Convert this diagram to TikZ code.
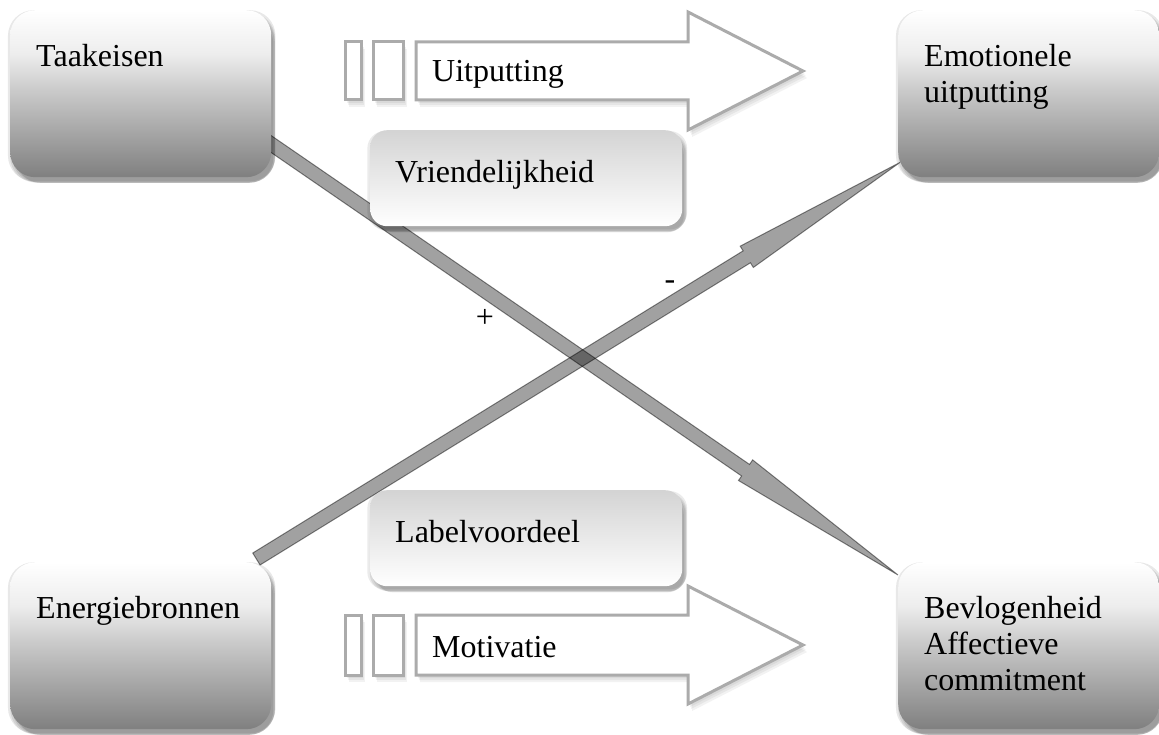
\documentclass[tikz,border=0pt]{standalone}
\usepackage{fontspec}
\setmainfont{Liberation Serif}
\usetikzlibrary{calc,shadows}
\pgfdeclarelayer{bg}
\pgfsetlayers{bg,main}
\pgfdeclareverticalshading{bigshade}{100bp}{color(0bp)=(black!50); color(25bp)=(black!50); color(50bp)=(black!22); color(62bp)=(black!7); color(75bp)=(white); color(100bp)=(white)}
\newcommand\figfont{\fontsize{32}{36}\selectfont}
\newcommand\bigtxt[1]{\parbox[c][167pt][t]{209pt}{\raggedright\rule{0pt}{56pt}#1}}
\newcommand\smalltxt[1]{\parbox[c][96pt][t]{262pt}{\raggedright\rule{0pt}{52pt}#1}}
\begin{document}
\begin{tikzpicture}[x=1pt,y=-1pt,
  softshadow/.style={
    general shadow={fill=black, opacity=#1, shadow xshift=1pt, shadow yshift=-2pt, shadow scale=1.025},
    general shadow={fill=black, opacity=#1, shadow xshift=2pt, shadow yshift=-4pt, shadow scale=1.015},
    general shadow={fill=black, opacity=#1, shadow xshift=3pt, shadow yshift=-5pt, shadow scale=1.005},
    general shadow={fill=black, opacity=#1, shadow xshift=4pt, shadow yshift=-6pt, shadow scale=0.995},
    general shadow={fill=black, opacity=#1, shadow xshift=4pt, shadow yshift=-7pt, shadow scale=0.985}},
  bigbox/.style={anchor=north west, inner xsep=26pt, inner ysep=0pt, rounded corners=25pt,
    softshadow=0.09, shade, shading=bigshade, font=\figfont},
  smallbox/.style={anchor=north west, inner xsep=25pt, inner ysep=0pt, rounded corners=17pt,
    softshadow=0.08, top color=black!17, bottom color=white, font=\figfont},
  blockarrow/.style={draw=black!33, line width=3pt, fill=white,
    general shadow={fill=black, opacity=0.05, shadow xshift=2pt, shadow yshift=-3pt},
    general shadow={fill=black, opacity=0.05, shadow xshift=3pt, shadow yshift=-5pt},
    general shadow={fill=black, opacity=0.05, shadow xshift=4pt, shadow yshift=-7pt}},
  diag/.style={fill=black, fill opacity=0.37, draw=black, draw opacity=0.45, line width=1pt},
  lbl/.style={anchor=base west, inner sep=0pt, font=\figfont},
  sign/.style={inner sep=0pt, font=\figfont}]
\useasboundingbox (0,0) rectangle (1159,735);
\begin{pgfonlayer}{bg}
\fill[white] (0,0) rectangle (1159,735);
\end{pgfonlayer}

% big boxes
\node[bigbox] (taak) at (10,10) {\bigtxt{Taakeisen}};
\node[bigbox] (emo) at (898,10) {\bigtxt{Emotionele\\uitputting}};
\node[bigbox] (energ) at (10,562) {\bigtxt{Energiebronnen}};
\node[bigbox] (bevl) at (898,562) {\bigtxt{Bevlogenheid\\Affectieve\\commitment}};

% small boxes
\node[smallbox] (vriend) at (370,130) {\smalltxt{Vriendelijkheid}};
\node[smallbox] (label) at (370,490) {\smalltxt{Labelvoordeel}};

% block arrows
\draw[blockarrow] (345,42) rectangle (361,100);
\draw[blockarrow] (373,42) rectangle (403,100);
\draw[blockarrow] (416,42) -- (688,42) -- (688,12) -- (803,71) -- (688,130) -- (688,100) -- (416,100) -- cycle;
\node[lbl] (uit) at (432,82) {Uitputting};

\draw[blockarrow] (345,615) rectangle (361,675);
\draw[blockarrow] (373,615) rectangle (403,675);
\draw[blockarrow] (416,615) -- (688,615) -- (688,586) -- (803,645) -- (688,704) -- (688,675) -- (416,675) -- cycle;
\node[lbl] (motiv) at (432,657) {Motivatie};

% diagonal connectors
\coordinate (s1) at ($(taak.south east)+(-23,-49)$);
\coordinate (t1) at ($(bevl.north west)+(0,13)$);
\coordinate (n1) at ($(t1)!185pt!(s1)$);
\coordinate (s2) at ($(energ.north east)+(-15,-3)$);
\coordinate (t2) at ($(emo.south west)+(2,-15)$);
\coordinate (n2) at ($(t2)!180pt!(s2)$);
\begin{pgfonlayer}{bg}
\draw[diag] ($(s1)!7pt!90:(t1)$) -- ($(n1)!7pt!90:(t1)$) -- ($(n1)!12.5pt!90:(t1)$) -- (t1)
  -- ($(n1)!12.5pt!-90:(t1)$) -- ($(n1)!7pt!-90:(t1)$) -- ($(s1)!7pt!-90:(t1)$) -- cycle;
\draw[diag] ($(s2)!7pt!90:(t2)$) -- ($(n2)!7pt!90:(t2)$) -- ($(n2)!12.5pt!90:(t2)$) -- (t2)
  -- ($(n2)!12.5pt!-90:(t2)$) -- ($(n2)!7pt!-90:(t2)$) -- ($(s2)!7pt!-90:(t2)$) -- cycle;
\end{pgfonlayer}

\node[sign] (plus) at (485,318) {+};
\node[sign] (minus) at (670,285) {-};
\end{tikzpicture}
\end{document}
